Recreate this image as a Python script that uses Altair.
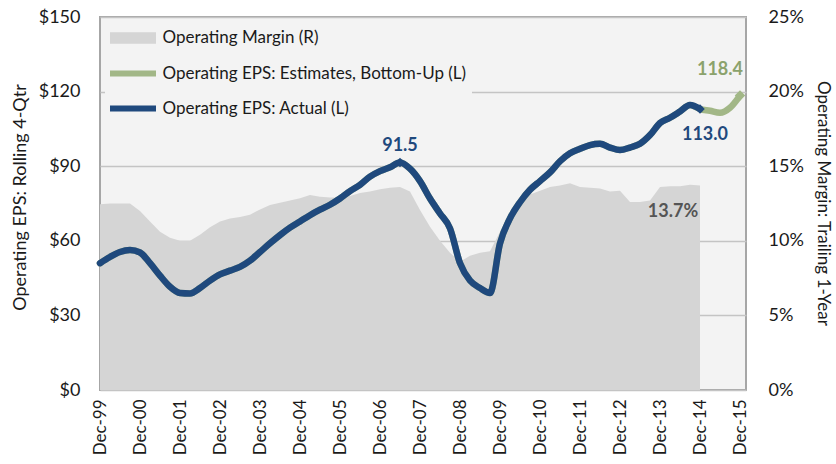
import json
import altair as alt
import pandas as pd

# ---------------- data ----------------
x_labels = ["Dec-99", "Dec-00", "Dec-01", "Dec-02", "Dec-03", "Dec-04", "Dec-05",
            "Dec-06", "Dec-07", "Dec-08", "Dec-09", "Dec-10", "Dec-11", "Dec-12",
            "Dec-13", "Dec-14", "Dec-15"]

# quarterly, Dec-99 .. Dec-14
eps_actual = [51.0, 53.5, 55.5, 56.3, 55.3, 51.0, 46.0, 41.5, 39.0, 38.8,
              41.0, 44.0, 46.5, 48.0, 49.5, 52.0, 55.5, 59.0, 62.3, 65.3,
              67.8, 70.3, 72.5, 74.5, 77.0, 80.0, 82.5, 85.8, 88.0, 89.6,
              91.5, 89.0, 84.0, 77.0, 71.0, 65.0, 51.0, 44.0, 41.0, 39.0,
              59.0, 69.0, 75.5, 80.5, 84.0, 87.5, 92.0, 95.2, 97.0, 98.5,
              99.0, 97.5, 96.5, 97.5, 99.0, 102.5, 107.4, 109.5, 112.0, 114.6,
              113.0]
# quarterly, Dec-14 .. Dec-15
eps_estimate = [113.0, 112.3, 111.5, 113.5, 118.4]

# operating margin (%), quarterly, Dec-99 .. Dec-14
op_margin = [12.45, 12.5, 12.5, 12.5, 12.0, 11.3, 10.6, 10.2, 10.0, 10.0,
             10.4, 10.9, 11.3, 11.5, 11.6, 11.75, 12.1, 12.4, 12.55, 12.7,
             12.85, 13.07, 12.95, 12.9, 12.9, 13.0, 13.2, 13.3, 13.45, 13.55,
             13.6, 13.3, 12.06, 10.95, 10.0, 9.2, 8.6, 9.0, 9.2, 9.3,
             10.6, 11.5, 12.3, 13.1, 13.35, 13.6, 13.7, 13.85, 13.6, 13.55,
             13.5, 13.3, 13.35, 12.6, 12.6, 12.7, 13.6, 13.65, 13.65, 13.75,
             13.7]

eps_ticks = [0, 30, 60, 90, 120, 150]
margin_ticks = [0, 5, 10, 15, 20, 25]

ACT = "Operating EPS: Actual (L)"
EST = "Operating EPS: Estimates, Bottom-Up (L)"
MAR = "Operating Margin (R)"

# ---------------- styling ----------------
FONT = "Lato"
TXT = "#1a1a1a"
BLUE = "#1f497d"
GREEN = "#a2b787"
GREEN_TXT = "#8ba26c"
AREA = "#d5d5d5"
BG = "#f3f3f3"
GRID = "#c4c4c4"

n_act = len(eps_actual)
q_act = list(range(n_act))
q_est = list(range(n_act - 1, n_act - 1 + len(eps_estimate)))

df_act = pd.DataFrame({"q": q_act, "eps": eps_actual, "series": ACT})
df_est = pd.DataFrame({"q": q_act[:-1] + q_est,
                       "eps": eps_actual[:-1] + eps_estimate, "series": EST})
df_mar = pd.DataFrame({"q": q_act, "margin": op_margin, "series": MAR})

# pre-crisis peak (before Dec-08) is the one annotated
pre_crisis = 9 * 4
peak_i = max(range(pre_crisis), key=lambda i: eps_actual[i])
df_peak = pd.DataFrame({"q": [peak_i], "eps": [eps_actual[peak_i]],
                        "label": [f"{eps_actual[peak_i]:.1f}"]})
df_last = pd.DataFrame({"q": [n_act - 1], "eps": [eps_actual[-1]],
                        "label": [f"{eps_actual[-1]:.1f}"]})
df_est_end = pd.DataFrame({"q": [q_est[-1]], "eps": [eps_estimate[-1]],
                           "label": [f"{eps_estimate[-1]:.1f}"]})
df_mar_end = pd.DataFrame({"q": [n_act - 1], "margin": [op_margin[-1]],
                           "label": [f"{op_margin[-1]:.1f}%"]})

label_expr = json.dumps(x_labels) + "[round(datum.value / 4)]"
x_max = (len(x_labels) - 1) * 4

x_enc = alt.X("q:Q",
              scale=alt.Scale(domain=[0, x_max + 0.6], nice=False, zero=False),
              axis=alt.Axis(values=[4 * i for i in range(len(x_labels))],
                            labelExpr=label_expr, labelAngle=-90, labelPadding=9,
                            labelFontSize=17, ticks=False, domain=False,
                            grid=False, title=None))

y_eps = alt.Y("eps:Q",
              scale=alt.Scale(domain=[eps_ticks[0], eps_ticks[-1]], nice=False),
              axis=alt.Axis(orient="left", values=eps_ticks, format="$.0f",
                            labelFontSize=18, labelPadding=20, ticks=False,
                            domain=False, grid=True, gridColor=GRID, gridWidth=1.5,
                            title="Operating EPS: Rolling 4-Qtr", titleFontSize=18,
                            titleAngle=-90, titleX=-80, titleY=180,
                            titleAlign="center", titleBaseline="middle"))

y_mar = alt.Y("margin:Q",
              scale=alt.Scale(domain=[margin_ticks[0], margin_ticks[-1]], nice=False),
              axis=alt.Axis(orient="right", values=margin_ticks,
                            labelExpr="datum.value + '%'",
                            labelFontSize=18, labelPadding=22, ticks=False,
                            domain=False, grid=False,
                            title="Operating Margin: Trailing 1-Year", titleFontSize=17,
                            titleAngle=90, titleX=76, titleY=186,
                            titleAlign="center", titleBaseline="middle"))

fill_legend = alt.Legend(orient="none", legendX=5, legendY=7.5, direction="vertical",
                         title=None, symbolType="M-4.6,-1.15H4.6V1.15H-4.6Z",
                         symbolSize=100, symbolStrokeWidth=0, symbolOffset=14.5,
                         labelOffset=21, labelFont=FONT, labelFontSize=17,
                         labelColor=TXT, padding=5, fillColor=BG, symbolOpacity=1)

stroke_legend = alt.Legend(orient="none", legendX=5, legendY=43, direction="vertical",
                           title=None, symbolType="M-4.6,0H4.6", symbolSize=100,
                           symbolStrokeWidth=6, symbolOffset=14.5, labelOffset=21,
                           rowPadding=10, labelFont=FONT, labelFontSize=17,
                           labelColor=TXT, padding=5, fillColor=BG, symbolOpacity=1,
                           labelLimit=400)

area = alt.Chart(df_mar).mark_area(interpolate="linear").encode(
    x=x_enc, y=y_mar,
    fill=alt.Fill("series:N", scale=alt.Scale(domain=[MAR], range=[AREA]),
                  legend=fill_legend))

mar_text = alt.Chart(df_mar_end).mark_text(
    font=FONT, fontSize=18, fontWeight="bold", color="#555555", dx=-27, dy=26
).encode(x=x_enc, y=y_mar, text="label:N")

stroke_scale = alt.Scale(domain=[EST, ACT], range=[GREEN, BLUE])

est_line = alt.Chart(df_est).mark_line(
    interpolate="monotone", strokeWidth=6.5, strokeCap="round", strokeJoin="round"
).encode(x=x_enc, y=y_eps,
         stroke=alt.Stroke("series:N", scale=stroke_scale, legend=stroke_legend))

act_line = alt.Chart(df_act).mark_line(
    interpolate="monotone", strokeWidth=6.5, strokeCap="round", strokeJoin="round"
).encode(x=x_enc, y=y_eps,
         stroke=alt.Stroke("series:N", scale=stroke_scale, legend=stroke_legend))

peak_pt = alt.Chart(df_peak).mark_point(shape="diamond", filled=True, size=90,
                                        color=BLUE, opacity=1).encode(x=x_enc, y=y_eps)
last_pt = alt.Chart(df_last).mark_point(shape="diamond", filled=True, size=90,
                                        color=BLUE, opacity=1).encode(x=x_enc, y=y_eps)
est_pt = alt.Chart(df_est_end).mark_point(shape="diamond", filled=True, size=110,
                                          color=GREEN, opacity=1).encode(x=x_enc, y=y_eps)

peak_txt = alt.Chart(df_peak).mark_text(
    font=FONT, fontSize=18, fontWeight="bold", color=BLUE, dy=-16
).encode(x=x_enc, y=y_eps, text="label:N")
last_txt = alt.Chart(df_last).mark_text(
    font=FONT, fontSize=18, fontWeight="bold", color=BLUE, dx=5, dy=26
).encode(x=x_enc, y=y_eps, text="label:N")
est_txt = alt.Chart(df_est_end).mark_text(
    font=FONT, fontSize=18, fontWeight="bold", color=GREEN_TXT, dx=-20, dy=-26
).encode(x=x_enc, y=y_eps, text="label:N")

margin_layer = alt.layer(area, mar_text)
eps_layer = alt.layer(est_line, act_line, peak_pt, last_pt, est_pt,
                      peak_txt, last_txt, est_txt)

chart = alt.layer(margin_layer, eps_layer).resolve_scale(
    y="independent"
).properties(
    width=646, height=373,
    autosize=alt.AutoSizeParams(type="none"),
    padding={"left": 100, "top": 17, "right": 90, "bottom": 74},
    background="white",
).configure_view(
    fill=BG, stroke="#a6a6a6", strokeWidth=2
).configure_axis(
    labelFont=FONT, titleFont=FONT, labelColor=TXT, titleColor=TXT,
    titleFontWeight="normal"
).configure_legend(
    labelFont=FONT
)

chart.save("out.html", embed_options={"renderer": "svg", "actions": False})
